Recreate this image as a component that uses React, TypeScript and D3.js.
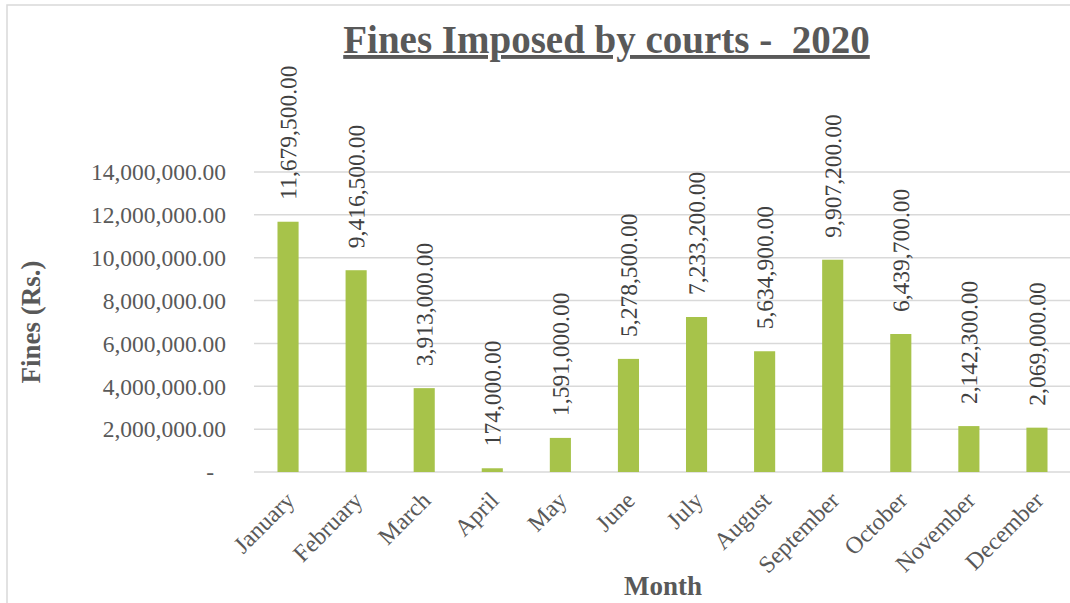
import React from "react";
import * as d3 from "d3";

const months = ["January","February","March","April","May","June","July","August","September","October","November","December"];
const fines = [11679500, 9416500, 3913000, 174000, 1591000, 5278500, 7233200, 5634900, 9907200, 6439700, 2142300, 2069000];
const yTicks = [0, 2000000, 4000000, 6000000, 8000000, 10000000, 12000000, 14000000];
const title = "Fines Imposed by courts -  2020";
const yTitle = "Fines (Rs.)";
const xTitle = "Month";

const W = 1070, H = 603;
const left = 254, right = 1071, top = 172, bottom = 472;
const serif = "'Liberation Serif', 'Times New Roman', serif";

const fmt = (v: number) => v === 0 ? "-" : d3.format(",.2f")(v);

export default function App() {
  const x = d3.scaleBand<string>().domain(months).range([left, right]).paddingInner(0.69).paddingOuter(0.345);
  const y = d3.scaleLinear().domain([0, 14000000]).range([bottom, top]);
  return (
    <svg width={W} height={H} style={{ position: "absolute", left: 0, top: 0, background: "#fff", fontFamily: serif }}>
      <rect x={7} y={5} width={W + 10} height={H + 10} fill="#fff" stroke="#d9d9d9" strokeWidth={1.5} />
      <text x={606.5} y={53} textAnchor="middle" fontSize={39} fontWeight="bold" fill="#595959" textDecoration="underline" style={{ whiteSpace: "pre", fontFamily: serif }}>{title}</text>
      {yTicks.map(t => (
        <g key={t}>
          <line x1={left} x2={right} y1={y(t)} y2={y(t)} stroke="#d9d9d9" strokeWidth={1.5} />
          <text x={t === 0 ? 214 : 226} y={y(t)} dy="0.35em" textAnchor="end" fontSize={23.5} fill="#595959" style={{ fontFamily: serif }}>{fmt(t)}</text>
        </g>
      ))}
      {fines.map((v, i) => {
        const cx = x(months[i])! + x.bandwidth() / 2;
        return (
          <g key={months[i]}>
            <rect x={x(months[i])} y={y(v)} width={x.bandwidth()} height={bottom - y(v)} fill="#a7c34a" />
            <text transform={`translate(${cx},${y(v) - 22}) rotate(-89.95)`} dy="0.35em" fontSize={23.5} fill="#404040" fontFamily="Liberation Serif" style={{ fontFamily: "'Liberation Serif', serif" }}>{fmt(v)}</text>
            <text transform={`translate(${cx - 4},${490}) rotate(-45)`} textAnchor="end" dy="0.7em" fontSize={24} fill="#595959" style={{ fontFamily: serif }}>{months[i]}</text>
          </g>
        );
      })}
      <text transform={`translate(40,${322}) rotate(-90)`} textAnchor="middle" fontSize={27} fontWeight="bold" fill="#595959" style={{ fontFamily: serif }}>{yTitle}</text>
      <text x={663} y={595} textAnchor="middle" fontSize={27} fontWeight="bold" fill="#595959" style={{ fontFamily: serif }}>{xTitle}</text>
    </svg>
  );
}
